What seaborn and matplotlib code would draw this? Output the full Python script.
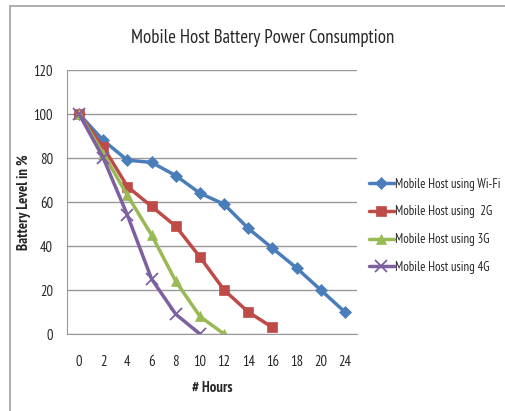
import numpy as np
import pandas as pd
import seaborn as sns
import matplotlib.pyplot as plt
from matplotlib.patches import Rectangle

hours = ['0', '2', '4', '6', '8', '10', '12', '14', '16', '18', '20', '24']
wifi = [100, 88, 79, 78, 72, 64, 59, 48, 39, 30, 20, 10]
g2 = [100, 85, 67, 58, 49, 35, 20, 10, 3]
g3 = [100, 82, 63, 45, 24, 8, 0]
g4 = [100, 80, 54, 25, 9, 0]

names = ['Mobile Host using Wi-Fi', 'Mobile Host using  2G',
         'Mobile Host using 3G', 'Mobile Host using 4G']
colors = ['#4A7EBB', '#BE4B48', '#98B954', '#7D60A0']
markers = ['D', 's', '^', 'x']
msizes = [6.5, 7.5, 7.5, 8]

sns.set_style('white')
plt.rcParams['font.family'] = ['PT Sans Narrow', 'DejaVu Sans']

fig = plt.figure(figsize=(5.06, 4.11), dpi=100)
fig.patches.append(Rectangle((10 / 506, -0.1), 1.2, 1 - 6 / 411 + 0.1,
                             transform=fig.transFigure, fill=False,
                             edgecolor='#A0A0A0', linewidth=1.2))
ax = fig.add_axes([67 / 506, 1 - 334 / 411, 290 / 506, 264 / 411])

for vals, name, c, m, ms in zip([wifi, g2, g3, g4], names, colors, markers, msizes):
    df = pd.DataFrame({'x': np.arange(len(vals)), 'y': vals})
    sns.lineplot(data=df, x='x', y='y', ax=ax, color=c, marker=m, markersize=ms,
                 markeredgecolor=c, markeredgewidth=1.3 if m == 'x' else 0.5,
                 linewidth=2.5, label=name)

ax.set_xlim(-0.5, len(hours) - 0.5)
ax.set_ylim(0, 120)
ax.set_yticks(range(0, 121, 20))
ax.set_xticks(range(len(hours)))
ax.set_xticklabels(hours)
ax.yaxis.grid(True, color='#999999', linewidth=1)
ax.set_axisbelow(True)
for s in ['top', 'right']:
    ax.spines[s].set_visible(False)
for s in ['left', 'bottom']:
    ax.spines[s].set_color('#999999')
ax.tick_params(axis='y', length=4, color='#999999', labelsize=10.5, pad=6)
ax.tick_params(axis='x', length=0, labelsize=10.5, pad=15)

ax.set_xlabel('# Hours', fontsize=10.5, fontweight='bold', labelpad=9)
ax.set_ylabel('Battery Level in %', fontsize=10.5, fontweight='bold', labelpad=2)
fig.text(0.52, 1 - 38 / 411, 'Mobile Host Battery Power Consumption',
         ha='center', va='center', fontsize=13.5)

ax.legend(loc='center left', bbox_to_anchor=(1.04, 0.41), frameon=False,
          fontsize=9.2, handlelength=2.0, handletextpad=0.1, labelspacing=1.15,
          borderaxespad=0, borderpad=0)

fig.savefig('out.png', dpi=100)
